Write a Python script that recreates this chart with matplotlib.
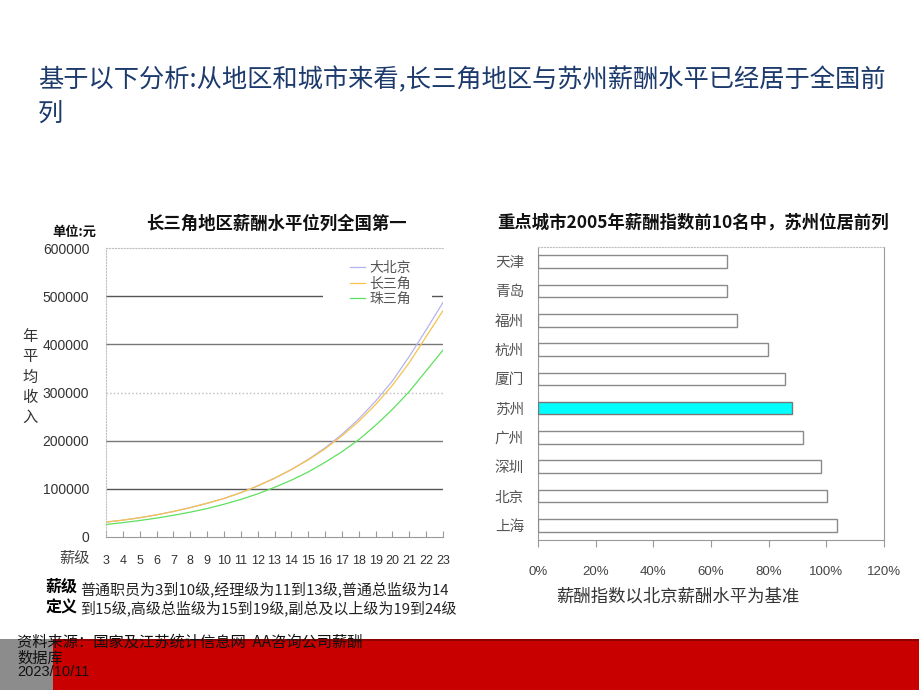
import matplotlib
matplotlib.use('Agg')
import matplotlib.pyplot as plt
from matplotlib.patches import Rectangle
from matplotlib.ticker import FuncFormatter

plt.rcParams['font.family'] = ['Noto Sans CJK SC', 'DejaVu Sans']

# ---------------- data ----------------
grades = list(range(3, 24))
beijing = [31000, 35000, 40000, 46000, 53000, 61000, 70000, 80000, 92000, 106000,
           122000, 140000, 161000, 185000, 213000, 245000, 282000, 324000, 375000,
           430000, 487000]
changsanjiao = [31000, 35000, 40000, 46000, 53000, 61000, 70000, 80000, 92000, 106000,
                122000, 140000, 160000, 183000, 210000, 240000, 275000, 315000, 362000,
                416000, 470000]
zhusanjiao = [26000, 29800, 34200, 39200, 45000, 51600, 59000, 68000, 78000, 89500,
              103000, 118000, 135000, 155000, 177000, 202000, 232000, 265000, 302000,
              345000, 388000]
series_names = ['大北京', '长三角', '珠三角']
y_ticks = [0, 100000, 200000, 300000, 400000, 500000, 600000]

cities = ['天津', '青岛', '福州', '杭州', '厦门', '苏州', '广州', '深圳', '北京', '上海']
pay_index = [0.655, 0.657, 0.691, 0.799, 0.858, 0.881, 0.920, 0.982, 1.001, 1.036]
highlight_city = '苏州'
x_ticks = [0, 0.2, 0.4, 0.6, 0.8, 1.0, 1.2]

W, H = 920, 690
fig = plt.figure(figsize=(9.2, 6.9), dpi=100)

def fx(px):
    return px / W

def fy(py):
    return 1 - py / H

# ---------------- background bands ----------------
fig.patches.append(Rectangle((fx(53), 0), 1 - fx(53), fy(639), transform=fig.transFigure,
                             facecolor='#c80000', edgecolor='none', zorder=0))
fig.patches.append(Rectangle((fx(53), fy(641)), 1 - fx(53), 2 / H, transform=fig.transFigure,
                             facecolor='#8f0000', edgecolor='none', zorder=0))
fig.patches.append(Rectangle((0, 0), fx(53), fy(639), transform=fig.transFigure,
                             facecolor='#8c8c8c', edgecolor='none', zorder=0))

# ---------------- main title ----------------
title_color = '#1c3a6c'
fig.text(fx(38), fy(80), '基于以下分析:从地区和城市来看,长三角地区与苏州薪酬水平已经居于全国前',
         fontsize=18.2, color=title_color, va='center', ha='left')
fig.text(fx(38), fy(114), '列', fontsize=18.2, color=title_color, va='center', ha='left')

# ---------------- left chart ----------------
axL = fig.add_axes([fx(106), fy(537), fx(443) - fx(106), fy(248) - fy(537)])
colors = ['#b4b4f0', '#f7c24a', '#5ee05e']
for vals, name, c in zip([beijing, changsanjiao, zhusanjiao], series_names, colors):
    axL.plot(grades, vals, color=c, lw=0.9, label=name, zorder=3)

axL.set_xlim(grades[0], grades[-1])
axL.set_ylim(y_ticks[0], y_ticks[-1])
axL.set_yticks(y_ticks)
axL.set_xticks(grades)
axL.set_xticklabels([str(g) for g in grades], fontsize=9, color='#333333',
                    family=['Liberation Sans', 'DejaVu Sans'])
axL.set_yticklabels([str(v) for v in y_ticks], fontsize=10, color='#333333',
                    family=['Liberation Sans', 'DejaVu Sans'])
axL.tick_params(axis='y', length=0, pad=12)
axL.tick_params(axis='x', direction='in', length=4, color='#999999', pad=13)

grid_styles = {100000: ('#555555', '-'), 200000: ('#777777', '-'), 300000: ('#bbbbbb', ':'),
               400000: ('#777777', '-'), 500000: ('#555555', '-')}
for v in y_ticks:
    if v in grid_styles:
        c, ls = grid_styles[v]
        axL.axhline(v, color=c, ls=ls, lw=1, zorder=1)

axL.spines['right'].set_visible(False)
axL.spines['top'].set_color('#c0c0c0')
axL.spines['top'].set_linestyle(':')
axL.spines['left'].set_color('#c0c0c0')
axL.spines['left'].set_linestyle(':')
axL.spines['bottom'].set_color('#999999')

# white legend panel (masks the gridline like the original)
axL.add_patch(Rectangle(((323 - 106) / 337, (537 - 308) / 289), (432 - 323) / 337, 50 / 289,
                        transform=axL.transAxes, facecolor='white', edgecolor='none', zorder=4))
leg = axL.legend(loc='upper left', bbox_to_anchor=((350 - 106) / 337, (537 - 261) / 289),
                 fontsize=10, handlelength=1.1, handletextpad=0.3, labelspacing=0.12,
                 borderpad=0, borderaxespad=0, frameon=False)
leg.set_zorder(5)
for t in leg.get_texts():
    t.set_color('#555555')

fig.text(fx(276), fy(224), '长三角地区薪酬水平位列全国第一', fontsize=12.5, fontweight='bold',
         ha='center', va='center', color='#111111')
fig.text(fx(52), fy(232), '单位:元', fontsize=9.5, fontweight='bold', ha='left', va='center',
         color='#111111')
fig.text(fx(30), fy(377), '年\n平\n均\n收\n入', fontsize=11, ha='center', va='center',
         color='#333333', linespacing=1.25)
fig.text(fx(75), fy(558), '薪级', fontsize=11, ha='center', va='center', color='#444444')

fig.text(fx(80), fy(589), '普通职员为3到10级,经理级为11到13级,普通总监级为14', fontsize=10.8,
         ha='left', va='center', color='#222222')
fig.text(fx(80), fy(608), '到15级,高级总监级为15到19级,副总及以上级为19到24级', fontsize=10.8,
         ha='left', va='center', color='#222222')
fig.text(fx(46), fy(587), '薪级', fontsize=11.5, fontweight='bold', ha='left', va='center',
         color='#000000')
fig.text(fx(46), fy(608), '定义', fontsize=11.5, fontweight='bold', ha='left', va='center',
         color='#000000')

# ---------------- right chart ----------------
axR = fig.add_axes([fx(538), fy(540), fx(884) - fx(538), fy(247) - fy(540)])
face = ['#00ffff' if c == highlight_city else 'white' for c in cities]
edge = ['#777777' if c == highlight_city else '#8a8a8a' for c in cities]
axR.barh(cities, pay_index, height=0.43, color=face, edgecolor=edge, linewidth=1, zorder=3)
axR.set_ylim(len(cities) - 0.5, -0.5)
axR.set_xlim(x_ticks[0], x_ticks[-1])
axR.set_xticks(x_ticks)
axR.xaxis.set_major_formatter(FuncFormatter(lambda v, p: f'{v:.0%}'))
for lab in axR.get_xticklabels():
    lab.set_fontsize(9.5)
    lab.set_color('#444444')
    lab.set_family(['Liberation Sans', 'DejaVu Sans'])
axR.tick_params(axis='x', direction='out', length=5, color='#999999', pad=14)
axR.tick_params(axis='y', length=0, pad=10, labelsize=10.5, labelcolor='#555555')
for s in ['left', 'right', 'bottom']:
    axR.spines[s].set_color('#999999')
axR.spines['top'].set_color('#c0c0c0')
axR.spines['top'].set_linestyle(':')

fig.text(fx(693), fy(223), '重点城市2005年薪酬指数前10名中，苏州位居前列', fontsize=12.5,
         fontweight='bold', ha='center', va='center', color='#111111')
fig.text(fx(678), fy(597), '薪酬指数以北京薪酬水平为基准', fontsize=12.5, ha='center', va='center',
         color='#333333')

# ---------------- footer ----------------
fig.text(fx(17), fy(642), '资料来源：国家及江苏统计信息网  AA咨询公司薪酬', fontsize=11,
         ha='left', va='center', color='#111111', zorder=5)
fig.text(fx(17), fy(658), '数据库', fontsize=11, ha='left', va='center', color='#111111', zorder=5)
fig.text(fx(17), fy(672), '2023/10/11', fontsize=10.5, ha='left', va='center', color='#111111',
         family=['Liberation Sans', 'DejaVu Sans'], zorder=5)

fig.savefig('out.png', dpi=100)
